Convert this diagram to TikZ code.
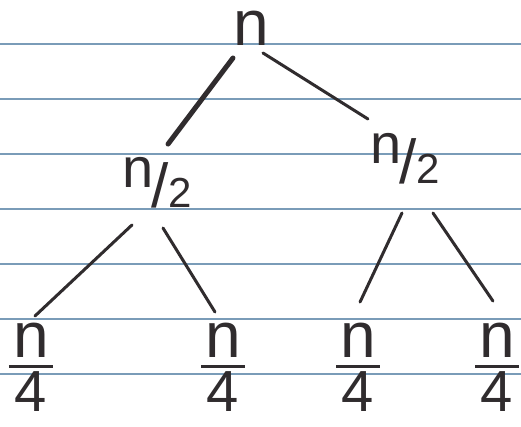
\documentclass[tikz,border=0pt]{standalone}
\usepackage{fontspec}
\setmainfont{Liberation Sans}
\usepackage{tikz}
\usetikzlibrary{calc}

\definecolor{ink}{RGB}{48,44,46}
\definecolor{ruling}{RGB}{122,156,184}

% n/2 written with a slanted bar, n/4 stacked over a bar
\newcommand{\halfn}{n\kern-2pt\raisebox{-20pt}{\fontsize{62}{62}\selectfont/}\kern-1pt\raisebox{-20pt}{\fontsize{42}{42}\selectfont 2}}
\newcommand{\quartern}{\vbox{\offinterlineskip\halign{\hfil##\hfil\cr n\cr\noalign{\kern7.5pt}\rule{44pt}{3pt}\cr\noalign{\kern3.5pt}\fontsize{58}{58}\selectfont 4\cr}}}

\begin{document}
\begin{tikzpicture}[
    x=1pt, y=-1pt,
    term/.style={inner sep=0pt, text=ink, font=\fontsize{64}{64}\selectfont},
    half/.style={term, font=\fontsize{56}{56}\selectfont},
    edge/.style={draw=ink, line width=3pt, line cap=round}
]
    \useasboundingbox (0,0) rectangle (521,427);
    \fill[white] (0,0) rectangle (521,427);
    % lined paper
    \foreach \y in {44,99,...,374}
        \draw[ruling, line width=1.5pt] (0,\y) -- (521,\y);

    \node (root) [term] at (251,28) {n};
    \node (lhalf) [half] at (157,182.5) {\halfn};
    \node (rhalf) [half] at (405,159) {\halfn};

    \node (q1) [term] at (31,367) {\quartern};
    \node (q2) [term] at (223,367) {\quartern};
    \node (q3) [term] at (358,367) {\quartern};
    \node (q4) [term] at (497,367) {\quartern};

    \draw[edge, line width=5pt] ($(root)+(-121:35pt)$) -- ($(lhalf)+(74:40pt)$);
    \draw[edge] ($(root)+(-64.4:27.7pt)$) -- ($(rhalf)+(132.8:54.5pt)$);
    \draw[edge] ($(lhalf)+(-120.5:49.3pt)$) -- ($(q1)+(85.5:51.2pt)$);
    \draw[edge] ($(lhalf)+(-82.5:45.9pt)$) -- ($(q2)+(98.3:55.6pt)$);
    \draw[edge] ($(rhalf)+(-93.2:54.1pt)$) -- ($(q3)+(88.2:65pt)$);
    \draw[edge] ($(rhalf)+(-62.6:60.8pt)$) -- ($(q4)+(93.5:66.1pt)$);
\end{tikzpicture}
\end{document}
